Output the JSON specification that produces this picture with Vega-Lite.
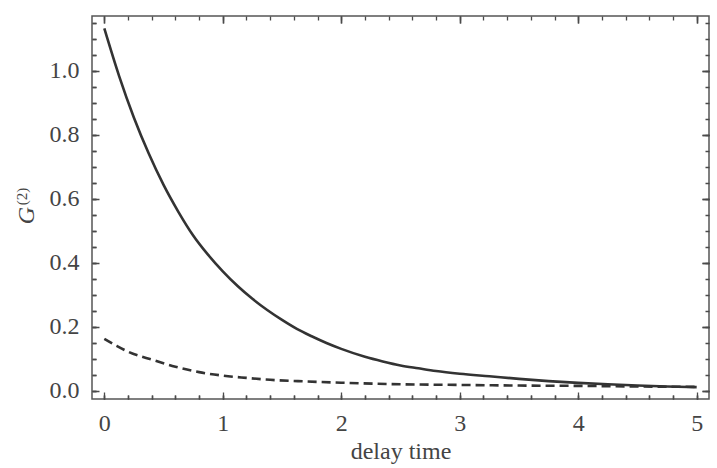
{
  "$schema": "https://vega.github.io/schema/vega-lite/v6.json",
  "width": 617,
  "height": 383,
  "autosize": "none",
  "padding": {"left": 92, "top": 16, "right": 8, "bottom": 69},
  "background": "white",
  "config": {
    "view": {"stroke": "#555", "strokeWidth": 1.5},
    "font": "Liberation Serif",
    "axis": {
      "domain": false,
      "grid": false,
      "labelFont": "Liberation Serif",
      "labelFontSize": 24,
      "labelColor": "#444",
      "titleFont": "Liberation Serif",
      "titleFontSize": 24,
      "titleFontWeight": "normal",
      "titleColor": "#444"
    }
  },
  "data": {
    "values": [
      {"t": 0, "g": 1.132, "curve": "solid"},
      {"t": 0.125, "g": 0.983, "curve": "solid"},
      {"t": 0.25, "g": 0.853, "curve": "solid"},
      {"t": 0.375, "g": 0.741, "curve": "solid"},
      {"t": 0.5, "g": 0.643, "curve": "solid"},
      {"t": 0.625, "g": 0.559, "curve": "solid"},
      {"t": 0.75, "g": 0.485, "curve": "solid"},
      {"t": 0.875, "g": 0.425, "curve": "solid"},
      {"t": 1.0, "g": 0.373, "curve": "solid"},
      {"t": 1.125, "g": 0.327, "curve": "solid"},
      {"t": 1.25, "g": 0.287, "curve": "solid"},
      {"t": 1.375, "g": 0.252, "curve": "solid"},
      {"t": 1.5, "g": 0.221, "curve": "solid"},
      {"t": 1.625, "g": 0.193, "curve": "solid"},
      {"t": 1.75, "g": 0.17, "curve": "solid"},
      {"t": 1.875, "g": 0.149, "curve": "solid"},
      {"t": 2.0, "g": 0.1306, "curve": "solid"},
      {"t": 2.2, "g": 0.106, "curve": "solid"},
      {"t": 2.35, "g": 0.0915, "curve": "solid"},
      {"t": 2.5, "g": 0.079, "curve": "solid"},
      {"t": 2.65, "g": 0.07, "curve": "solid"},
      {"t": 2.8, "g": 0.0614, "curve": "solid"},
      {"t": 3.0, "g": 0.053, "curve": "solid"},
      {"t": 3.25, "g": 0.045, "curve": "solid"},
      {"t": 3.5, "g": 0.037, "curve": "solid"},
      {"t": 3.75, "g": 0.03, "curve": "solid"},
      {"t": 4.0, "g": 0.0245, "curve": "solid"},
      {"t": 4.25, "g": 0.02, "curve": "solid"},
      {"t": 4.5, "g": 0.016, "curve": "solid"},
      {"t": 4.75, "g": 0.013, "curve": "solid"},
      {"t": 5.0, "g": 0.011, "curve": "solid"},
      {"t": 0, "g": 0.162, "curve": "dashed"},
      {"t": 0.1, "g": 0.141, "curve": "dashed"},
      {"t": 0.2, "g": 0.122, "curve": "dashed"},
      {"t": 0.41, "g": 0.096, "curve": "dashed"},
      {"t": 0.6, "g": 0.075, "curve": "dashed"},
      {"t": 0.8, "g": 0.058, "curve": "dashed"},
      {"t": 1.0, "g": 0.047, "curve": "dashed"},
      {"t": 1.2, "g": 0.04, "curve": "dashed"},
      {"t": 1.4, "g": 0.034, "curve": "dashed"},
      {"t": 1.7, "g": 0.029, "curve": "dashed"},
      {"t": 2.0, "g": 0.025, "curve": "dashed"},
      {"t": 2.5, "g": 0.02, "curve": "dashed"},
      {"t": 3.0, "g": 0.018, "curve": "dashed"},
      {"t": 3.5, "g": 0.016, "curve": "dashed"},
      {"t": 4.0, "g": 0.015, "curve": "dashed"},
      {"t": 4.5, "g": 0.013, "curve": "dashed"},
      {"t": 5.0, "g": 0.012, "curve": "dashed"}
    ]
  },
  "resolve": {"axis": {"x": "independent", "y": "independent"}},
  "layer": [
    {
      "transform": [{"filter": "datum.curve == 'solid'"}],
      "mark": {"type": "line", "color": "#333", "strokeWidth": 2.6, "interpolate": "monotone"},
      "encoding": {
        "x": {
          "field": "t",
          "type": "quantitative",
          "scale": {"domain": [-0.104, 5.104], "nice": false, "zero": false},
          "axis": {
            "orient": "bottom",
            "title": "delay time",
            "values": [0, 0.2, 0.4, 0.6, 0.8, 1, 1.2, 1.4, 1.6, 1.8, 2, 2.2, 2.4, 2.6, 2.8, 3, 3.2, 3.4, 3.6, 3.8, 4, 4.2, 4.4, 4.6, 4.8, 5],
            "labelExpr": "abs(datum.value - round(datum.value)) < 0.001 ? format(datum.value, 'd') : ''",
            "tickSize": -4,
            "tickColor": "#4a4a4a",
            "tickWidth": 1.5,
            "labelPadding": 16,
            "grid": true,
            "gridColor": "#4a4a4a",
            "gridWidth": 1.3,
            "gridOpacity": 1,
            "gridDash": [4, 375, 4, 0]
          }
        },
        "y": {
          "field": "g",
          "type": "quantitative",
          "scale": {"domain": [-0.026, 1.171], "nice": false, "zero": false},
          "axis": {
            "orient": "left",
            "title": "G",
            "titleFontStyle": "italic",
            "titleAngle": -90,
            "titleAlign": "center",
            "titleBaseline": "middle",
            "titleX": -66,
            "titleY": 199,
            "values": [0, 0.05, 0.1, 0.15, 0.2, 0.25, 0.3, 0.35, 0.4, 0.45, 0.5, 0.55, 0.6, 0.65, 0.7, 0.75, 0.8, 0.85, 0.9, 0.95, 1, 1.05, 1.1, 1.15],
            "labelExpr": "abs(datum.value * 5 - round(datum.value * 5)) < 0.001 ? format(datum.value, '.1f') : ''",
            "tickSize": -4,
            "tickColor": "#4a4a4a",
            "tickWidth": 1.5,
            "labelPadding": 17,
            "grid": true,
            "gridColor": "#4a4a4a",
            "gridWidth": 1.3,
            "gridOpacity": 1,
            "gridDash": [4, 609, 4, 0]
          }
        }
      }
    },
    {
      "transform": [{"filter": "datum.curve == 'dashed'"}],
      "mark": {"type": "line", "color": "#333", "strokeWidth": 2.6, "strokeDash": [9, 5], "interpolate": "monotone"},
      "encoding": {
        "x": {
          "field": "t",
          "type": "quantitative",
          "axis": {
            "orient": "top",
            "title": null,
            "labels": false,
            "values": [0, 1, 2, 3, 4, 5],
            "tickSize": -7,
            "tickColor": "#4a4a4a",
            "tickWidth": 1.5,
            "grid": true,
            "gridColor": "#4a4a4a",
            "gridWidth": 1.3,
            "gridOpacity": 1,
            "gridDash": [7, 369, 7, 0]
          }
        },
        "y": {
          "field": "g",
          "type": "quantitative",
          "axis": {
            "orient": "right",
            "title": "(2)",
            "titleFontSize": 15,
            "titleAngle": -90,
            "titleAlign": "center",
            "titleBaseline": "middle",
            "titleX": -688,
            "titleY": 180,
            "labels": false,
            "values": [0, 0.2, 0.4, 0.6, 0.8, 1],
            "tickSize": -7,
            "tickColor": "#4a4a4a",
            "tickWidth": 1.5,
            "grid": true,
            "gridColor": "#4a4a4a",
            "gridWidth": 1.3,
            "gridOpacity": 1,
            "gridDash": [7, 603, 7, 0]
          }
        }
      }
    }
  ]
}
